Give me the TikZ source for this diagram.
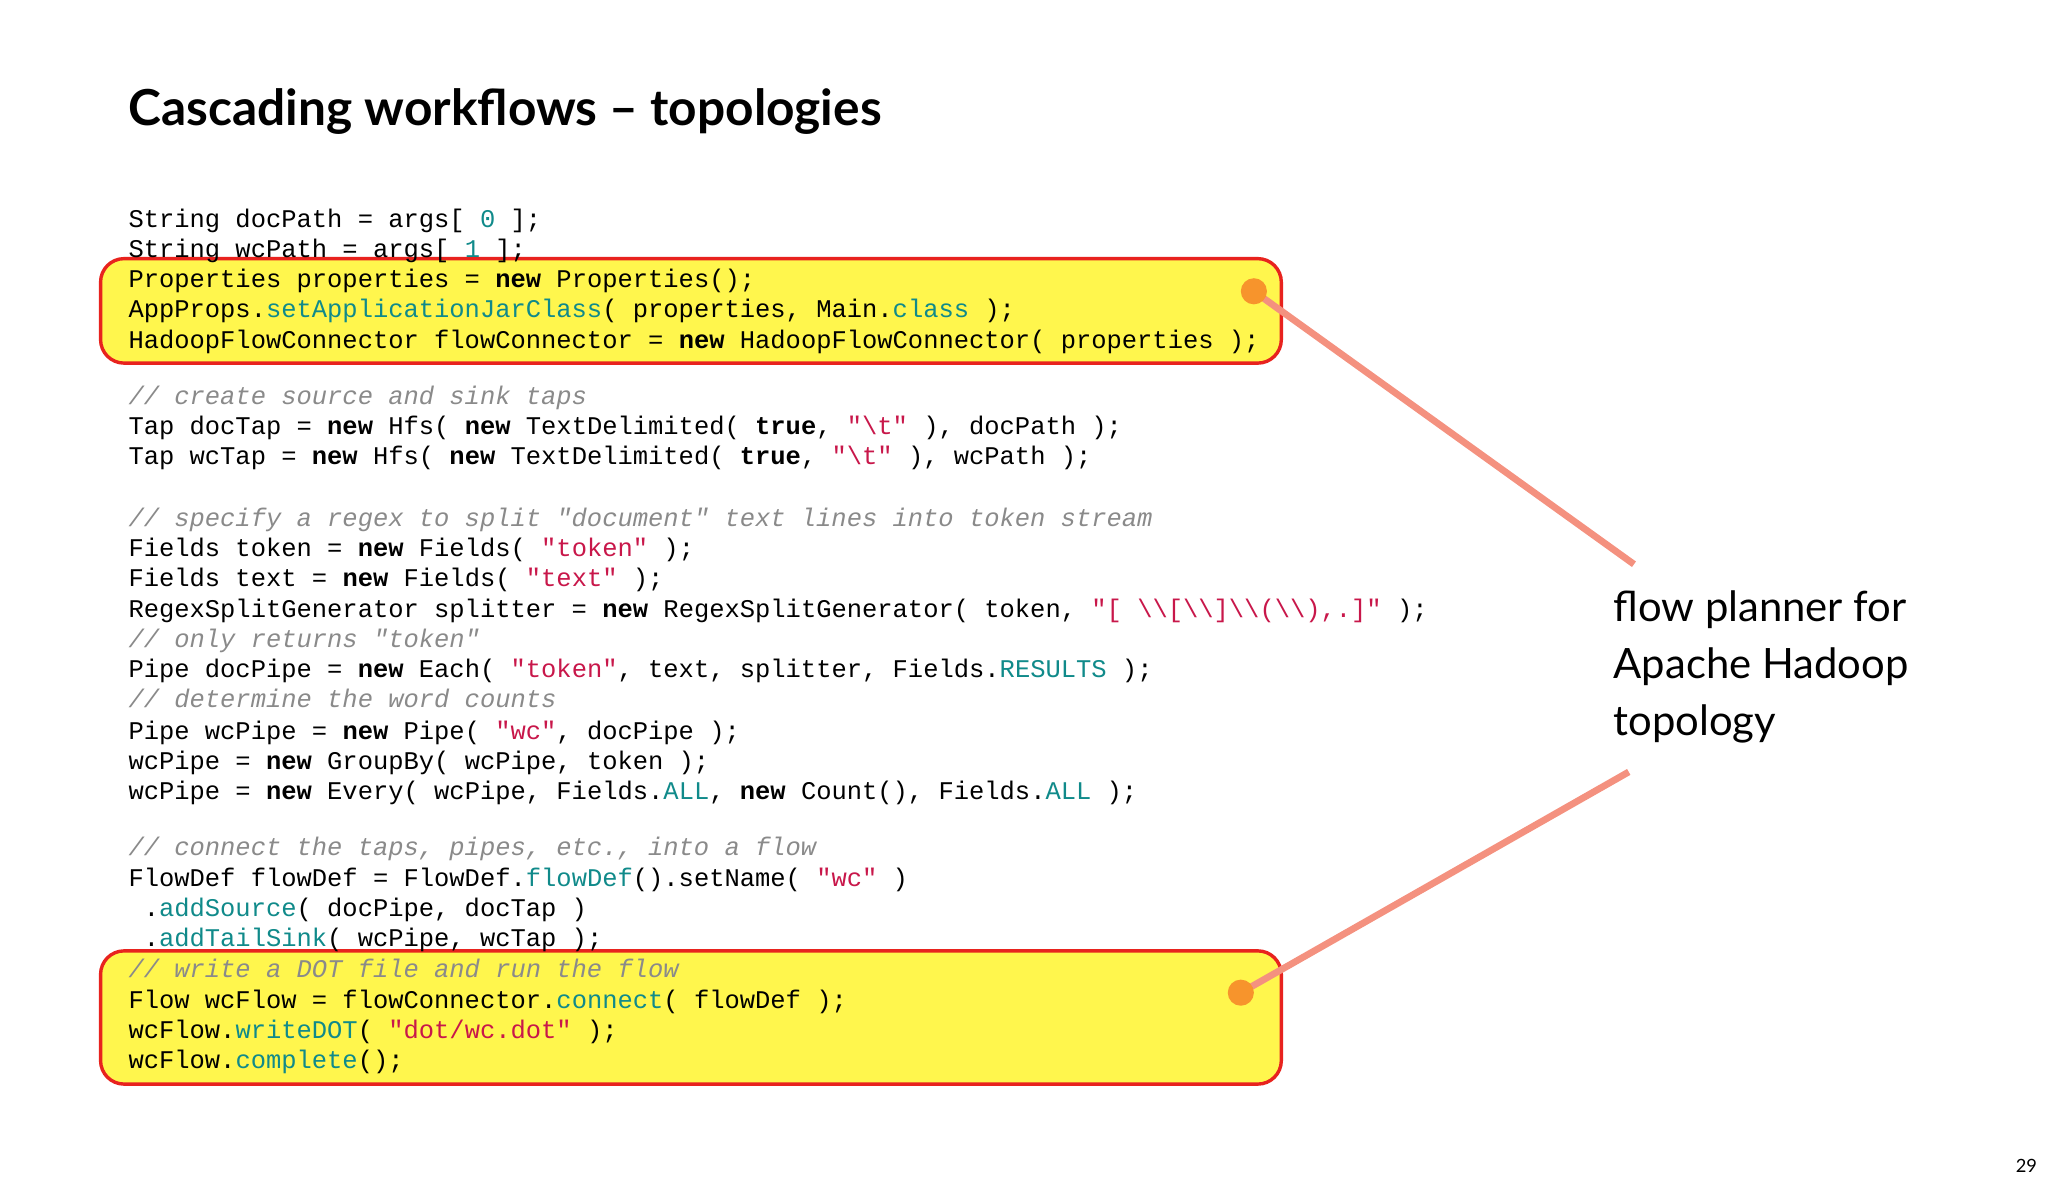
\documentclass[tikz,border=0pt]{standalone}
\usepackage{fontspec}
\newfontfamily\codefont{Liberation Mono}
\newfontfamily\latofont{Lato}
\definecolor{kstr}{HTML}{C8174A}
\definecolor{kteal}{HTML}{108A8A}
\definecolor{kcom}{HTML}{8A8A8A}
\definecolor{boxy}{HTML}{FFF64D}
\definecolor{boxr}{HTML}{E8231E}
\definecolor{lnk}{HTML}{F4917F}
\definecolor{dot}{HTML}{F7942C}
\newcommand{\kw}[1]{\textbf{#1}}
\newcommand{\st}[1]{\textcolor{kstr}{#1}}
\newcommand{\tl}[1]{\textcolor{kteal}{#1}}
\newcommand{\cm}[1]{\textcolor{kcom}{\itshape #1}}
\newcommand{\bs}{\textbackslash}
\tikzset{code/.style={anchor=base west,inner sep=0pt,font=\codefont\fontsize{9.75}{11}\selectfont},
 hbox/.style={draw=boxr,line width=1.3pt,fill=boxy,rounded corners=9pt},
 link/.style={draw=lnk,line width=2.6pt}}
\begin{document}
\begin{tikzpicture}[x=0.5pt,y=-0.5pt]
\useasboundingbox (0,0) rectangle (1568,907);
\node[anchor=base west,inner sep=0pt,font=\latofont\bfseries\fontsize{19}{22}\selectfont] (title) at (98,96) {Cascading workflows – topologies};
\draw[hbox] (77,198) rectangle (981,278);
\draw[hbox] (77,728) rectangle (981,830);
\def\L#1#2#3{\node[code] (#1) at (98,#2) {#3};}
\L{a1}{174}{String docPath = args[ \tl{0} ];}
\L{a2}{197}{String wcPath = args[ \tl{1} ];}
\L{a3}{220}{Properties properties = \kw{new} Properties();}
\L{a4}{243}{AppProps.\tl{setApplicationJarClass}( properties, Main.\tl{class} );}
\L{a5}{267}{HadoopFlowConnector flowConnector = \kw{new} HadoopFlowConnector( properties );}
\L{b1}{310}{\cm{// create source and sink taps}}
\L{b2}{333}{Tap docTap = \kw{new} Hfs( \kw{new} TextDelimited( \kw{true}, \st{"\bs t"} ), docPath );}
\L{b3}{356}{Tap wcTap = \kw{new} Hfs( \kw{new} TextDelimited( \kw{true}, \st{"\bs t"} ), wcPath );}
\L{c1}{403}{\cm{// specify a regex to split "document" text lines into token stream}}
\L{c2}{426}{Fields token = \kw{new} Fields( \st{"token"} );}
\L{c3}{449}{Fields text = \kw{new} Fields( \st{"text"} );}
\L{c4}{473}{RegexSplitGenerator splitter = \kw{new} RegexSplitGenerator( token, \st{"[ \bs\bs[\bs\bs]\bs\bs(\bs\bs),.]"} );}
\L{c5}{496}{\cm{// only returns "token"}}
\L{c6}{519}{Pipe docPipe = \kw{new} Each( \st{"token"}, text, splitter, Fields.\tl{RESULTS} );}
\L{c7}{542}{\cm{// determine the word counts}}
\L{c8}{566}{Pipe wcPipe = \kw{new} Pipe( \st{"wc"}, docPipe );}
\L{c9}{589}{wcPipe = \kw{new} GroupBy( wcPipe, token );}
\L{c10}{612}{wcPipe = \kw{new} Every( wcPipe, Fields.\tl{ALL}, \kw{new} Count(), Fields.\tl{ALL} );}
\L{d1}{655}{\cm{// connect the taps, pipes, etc., into a flow}}
\L{d2}{679}{FlowDef flowDef = FlowDef.\tl{flowDef}().setName( \st{"wc"} )}
\node[code] (d3) at (109.7,702) {.\tl{addSource}( docPipe, docTap )};
\node[code] (d4) at (109.7,725) {.\tl{addTailSink}( wcPipe, wcTap );};
\L{e1}{748}{\cm{// write a DOT file and run the flow}}
\L{e2}{772}{Flow wcFlow = flowConnector.\tl{connect}( flowDef );}
\L{e3}{795}{wcFlow.\tl{writeDOT}( \st{"dot/wc.dot"} );}
\L{e4}{818}{wcFlow.\tl{complete}();}
\node[anchor=north west,inner sep=0pt,align=left,font=\latofont\fontsize{16}{21.7}\selectfont] (note) at (1235,452) {flow planner for\\Apache Hadoop\\topology};
\coordinate (p1) at (960,223);
\coordinate (p2) at (950,760);
\coordinate (q1) at (1251,432);
\coordinate (q2) at (1247,591);
\draw[link] (p1) -- (q1);
\draw[link] (p2) -- (q2);
\fill[dot] (p1) circle (10);
\fill[dot] (p2) circle (10);
\node[anchor=base east,inner sep=0pt,font=\latofont\fontsize{7}{8}\selectfont] (pg) at (1560,898) {29};
\end{tikzpicture}
\end{document}
